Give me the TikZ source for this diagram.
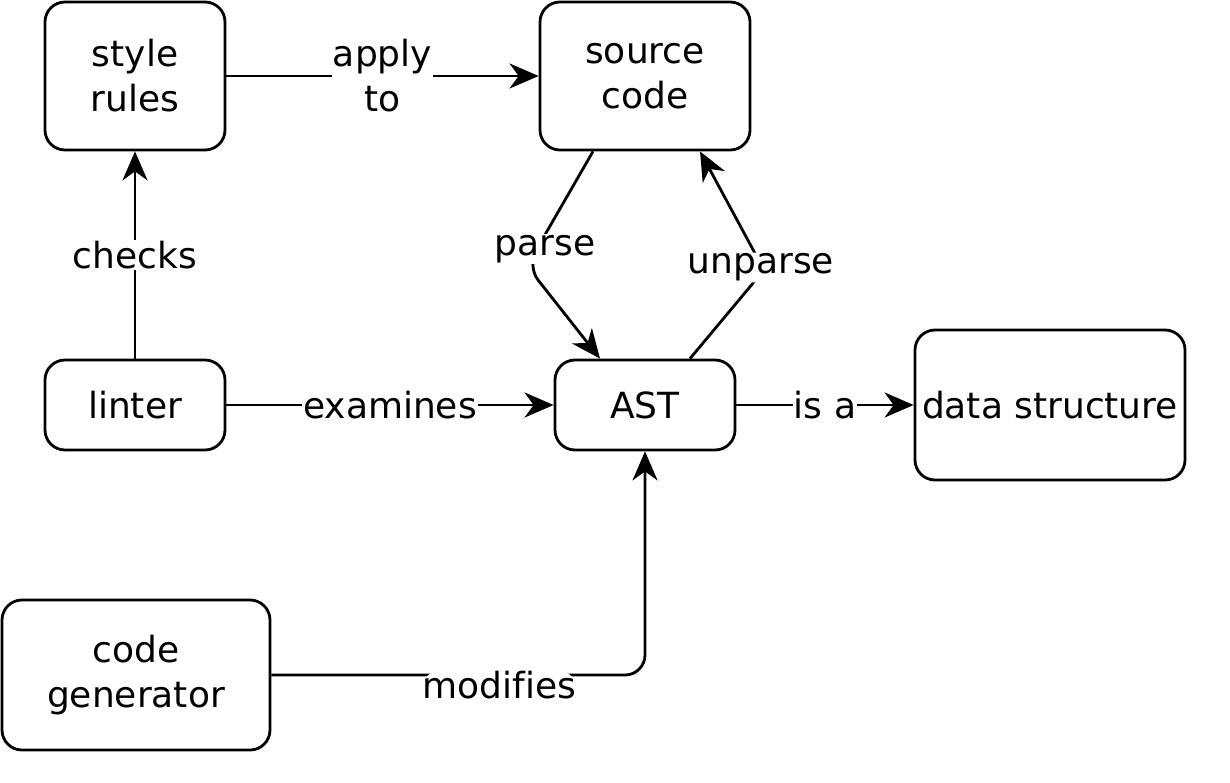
\documentclass[tikz,border=0pt]{standalone}
\usepackage{fontspec}
\setmainfont[Ligatures=NoCommon]{DejaVu Sans}
\usetikzlibrary{arrows.meta}

\begin{document}
\begin{tikzpicture}[x=1pt, y=-1pt, >={Stealth[length=29pt,width=25pt,inset=9pt]},
    every node/.style={font=\fontsize{36}{45}\selectfont},
    box/.style={draw, line width=2.8pt, rounded corners=20pt, align=center, inner sep=0pt},
    flow/.style={->, line width=2.8pt},
    lbl/.style={fill=white, inner sep=1pt, align=center}]
    \useasboundingbox (0,0) rectangle (1230,783);

    % Boxes
    \node[box, minimum width=180pt, minimum height=148pt] (style) at (135,76) {style\\rules};
    \node[box, minimum width=210pt, minimum height=148pt] (source) at (645,76) {source\\code};
    \node[box, minimum width=180pt, minimum height=90pt] (linter) at (135,405) {linter};
    \node[box, minimum width=180pt, minimum height=90pt] (ast) at (645,405) {AST};
    \node[box, minimum width=270pt, minimum height=150pt] (data) at (1050,405) {data structure};
    \node[box, minimum width=268pt, minimum height=150pt] (codegen) at (136,675) {code\\generator};

    % Bends of the parse / unparse loop
    \coordinate (parsebend) at (527,266);
    \coordinate (unparsebend) at (764,270);

    % Connectors
    \draw[flow] (style) -- node[lbl] {apply\\to} (source);
    \draw[flow] (linter) -- node[lbl] {checks} (style);
    \draw[flow] (linter) -- node[lbl] {examines} (ast);
    \draw[flow] (ast) -- node[lbl] {is a} (data);
    \draw[flow, rounded corners=20pt] (codegen) -- node[lbl, pos=0.61, yshift=-10pt] {modifies} (ast |- codegen) -- (ast);
    \draw[flow, rounded corners=18pt] ([xshift=-52pt]source.south) -- node[lbl, pos=0.79, yshift=-7pt, xshift=4pt] {parse} (parsebend) -- ([xshift=-45pt]ast.north);
    \draw[flow, rounded corners=18pt] ([xshift=45pt]ast.north) -- (unparsebend) -- node[lbl, pos=0.08, xshift=2pt, yshift=-7pt] {unparse} ([xshift=55pt]source.south);
\end{tikzpicture}
\end{document}
